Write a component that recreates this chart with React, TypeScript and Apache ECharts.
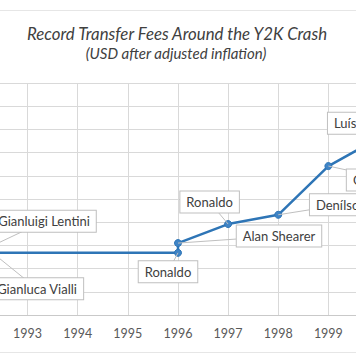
import React, { useEffect, useRef } from "react";
import * as echarts from "echarts";

const titleText = "Record Transfer Fees Around the Y2K Crash";
const subtitleText = "(USD after adjusted inflation)";
const players = ["Gianluigi Lentini", "Gianluca Vialli", "Ronaldo", "Alan Shearer", "Ronaldo", "Denílson", "Christian Vieri", "Luís Figo"];
const years = [1992.0, 1992.3, 1996, 1996, 1997, 1998, 1999, 2000];
const feesUSDm = [13.4, 13.4, 13.4, 15.5, 19.6, 21.6, 32.1, 38.1];
const yearMin = 1992;
const yearMax = 2000;
const feeMin = 0;
const feeMax = 50;
const feeStep = 5;
// callout offsets (px) from each point to its label centre
const labelOffsets = [[66.5, -31.5], [44.5, 36], [-10, 19], [101, -7], [-18.5, -22], [63, -10], [65, 14], [-19.5, -15]];

const FONT = "Lato, 'Open Sans', sans-serif";
const OFF = 40; // chart canvas extends beyond the visible frame on the left
const W = 436;
const H = 364;

export default function App() {
  const ref = useRef<HTMLDivElement>(null);
  useEffect(() => {
    if (!ref.current) return;
    const chart = echarts.init(ref.current, null, { renderer: "svg" });
    const data = years.map((y, i) => ({ value: [y, feesUSDm[i]], name: players[i] }));
    chart.setOption({
      animation: false,
      backgroundColor: "#ffffff",
      graphic: [
        { type: "line", shape: { x1: 0, y1: 10.5, x2: W, y2: 10.5 }, style: { stroke: "#e6e6e6", lineWidth: 1 } },
        { type: "line", shape: { x1: 0, y1: 352.5, x2: W, y2: 352.5 }, style: { stroke: "#e6e6e6", lineWidth: 1 } },
        {
          type: "text", x: OFF + 177, y: 33,
          style: { text: titleText, textAlign: "center", textVerticalAlign: "middle", fontFamily: FONT, fontStyle: "italic", fontSize: 16.8, fill: "#404040" },
        },
        {
          type: "text", x: OFF + 176, y: 53,
          style: { text: subtitleText, textAlign: "center", textVerticalAlign: "middle", fontFamily: FONT, fontStyle: "italic", fontSize: 15, fill: "#404040" },
        },
      ],
      grid: { left: OFF - 25.5, right: W - (OFF + 378.5), top: 83, bottom: 49 },
      xAxis: {
        type: "value", min: yearMin, max: yearMax, interval: 1,
        axisLine: { show: true, lineStyle: { color: "#c9c9c9", width: 1 } },
        axisTick: { show: false },
        axisLabel: { color: "#595959", fontFamily: FONT, fontSize: 12.5, margin: 12, formatter: (v: number) => String(v) },
        splitLine: { show: true, lineStyle: { color: "#d9d9d9", width: 1 } },
      },
      yAxis: {
        type: "value", min: feeMin, max: feeMax, interval: feeStep,
        axisLine: { show: false },
        axisTick: { show: false },
        axisLabel: { show: false },
        splitLine: { show: true, lineStyle: { color: "#d9d9d9", width: 1 } },
      },
      series: [
        {
          type: "line",
          data,
          symbol: "circle",
          symbolSize: 7,
          z: 2,
          lineStyle: { color: "#2e75b6", width: 2.5 },
          itemStyle: { color: "#3f84c6", borderColor: "#2e75b6", borderWidth: 1 },
          label: { show: false },
        },
        {
          type: "custom",
          z: 3,
          clip: false,
          data,
          encode: { x: 0, y: 1 },
          renderItem: (params: any, api: any) => {
            const i = params.dataIndex;
            const p = api.coord([api.value(0), api.value(1)]);
            const o = labelOffsets[i];
            const cx = p[0] + o[0];
            const cy = p[1] + o[1];
            return {
              type: "group",
              children: [
                {
                  type: "line",
                  z2: 1,
                  shape: { x1: p[0], y1: p[1], x2: cx, y2: cy },
                  style: { stroke: "#bfbfbf", lineWidth: 1 },
                },
                {
                  type: "text",
                  z2: 2,
                  x: cx,
                  y: cy,
                  style: {
                    text: players[i],
                    textAlign: "center",
                    textVerticalAlign: "middle",
                    fontFamily: FONT,
                    fontSize: 13,
                    lineHeight: 15,
                    fill: "#404040",
                    backgroundColor: "#ffffff",
                    borderColor: "#bfbfbf",
                    borderWidth: 1,
                    padding: [3, 6],
                  },
                },
              ],
            };
          },
        },
      ],
    });
    return () => chart.dispose();
  }, []);
  return (
    <div style={{ position: "absolute", left: 0, top: 0, width: 356, height: H, overflow: "hidden" }}>
      <div ref={ref} style={{ position: "absolute", left: -OFF, top: 0, width: W, height: H }} />
    </div>
  );
}
